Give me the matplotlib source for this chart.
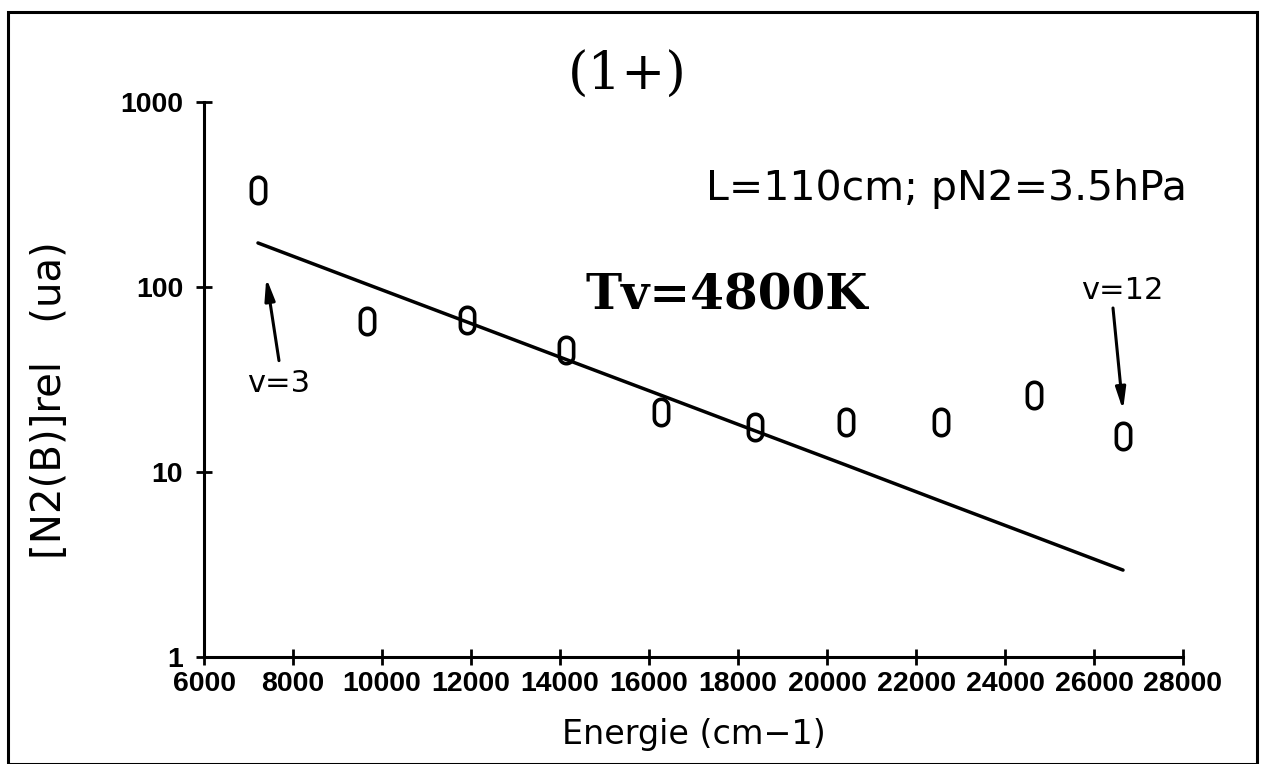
import numpy as np
import matplotlib
matplotlib.use("Agg")
import matplotlib.pyplot as plt
from matplotlib.path import Path
from matplotlib.patches import Rectangle
from matplotlib.ticker import FixedLocator, NullLocator

# Vibrational level energies (cm-1) and relative populations of N2(B)
energie = [7213, 9663, 11910, 14135, 16270, 18382, 20427, 22562, 24652, 26652]
population = [334, 65.5, 66.3, 45.6, 21.1, 17.5, 18.6, 18.6, 26.1, 15.7]
# Boltzmann fit (Tv = 4800 K) evaluated at the same energies
fit = [173, 103.5, 64.7, 40.6, 26.0, 16.7, 10.9, 6.95, 4.49, 2.95]

x_ticks = [6000, 8000, 10000, 12000, 14000, 16000, 18000, 20000, 22000,
           24000, 26000, 28000]
y_ticks = [1, 10, 100, 1000]
y_ticklabels = ["1", "10", "100", "1000"]

W, H = 1262, 764
fig = plt.figure(figsize=(W / 100, H / 100), dpi=100)
ax = fig.add_axes([204 / W, 1 - 657 / H, (1183 - 204) / W, (657 - 102) / H])

# stadium-shaped "0" marker
r, h = 0.27, 0.23
t1 = np.linspace(0, np.pi, 20)
t2 = np.linspace(np.pi, 2 * np.pi, 20)
verts = np.concatenate([
    np.column_stack([r * np.cos(t1), h + r * np.sin(t1)]),
    np.column_stack([r * np.cos(t2), -h + r * np.sin(t2)]),
    [[r, h]],
])
stadium = Path(verts, closed=True)

ax.plot(energie, fit, color="black", lw=2.5, solid_capstyle="round")
ax.plot(energie, population, linestyle="none", marker=stadium, markersize=19,
        markerfacecolor="none", markeredgecolor="black", markeredgewidth=2.6)

ax.set_yscale("log")
ax.set_xlim(6000, 28000)
ax.set_ylim(1, 1000)
ax.xaxis.set_major_locator(FixedLocator(x_ticks))
ax.yaxis.set_major_locator(FixedLocator(y_ticks))
ax.yaxis.set_minor_locator(NullLocator())
ax.set_yticklabels(y_ticklabels)
ax.set_xticklabels([str(v) for v in x_ticks])

for s in ["top", "right"]:
    ax.spines[s].set_visible(False)
for s in ["left", "bottom"]:
    ax.spines[s].set_linewidth(2.2)

ax.tick_params(direction="inout", length=12, width=2.0)
ax.tick_params(axis="x", pad=4)
ax.tick_params(axis="y", pad=9)
for lab in ax.get_xticklabels() + ax.get_yticklabels():
    lab.set_fontfamily("Liberation Sans")
    lab.set_fontweight("bold")
    lab.set_fontsize(20.5)

ax.set_xlabel("Energie (cm\u22121)", fontsize=24, family="DejaVu Sans", labelpad=15)
ax.set_ylabel("[N2(B)]rel   (ua)", fontsize=29, family="DejaVu Sans")
ax.yaxis.set_label_coords(-0.137, 0.463)

# annotations
fig.text(627 / W, 1 - 75 / H, "(1+)", ha="center", va="center",
         fontsize=38, family="DejaVu Serif")
fig.text(706 / W, 1 - 200 / H, "L=110cm; pN2=3.5hPa", ha="left",
         va="baseline", fontsize=29.5, family="DejaVu Sans")
fig.text(585 / W, 1 - 310 / H, "Tv=4800K", ha="left", va="baseline",
         fontsize=35, family="DejaVu Serif", fontweight="bold")

arrow = dict(arrowstyle="-|>,head_length=1.3,head_width=0.3", color="black",
             lw=2.2, shrinkA=0, shrinkB=0)
ax.annotate("", xy=(7400, 112), xytext=(7685, 40), arrowprops=arrow)
ax.text(7685, 30, "v=3", ha="center", va="center", fontsize=22,
        family="DejaVu Sans")
ax.annotate("", xy=(26652, 21.6), xytext=(26427, 77), arrowprops=arrow)
ax.text(26630, 96, "v=12", ha="center", va="center", fontsize=22,
        family="DejaVu Sans")

# frame around the figure
fig.patches.append(Rectangle((8 / W, 0), (1257 - 8) / W, 1 - 12 / H,
                             transform=fig.transFigure, fill=False,
                             edgecolor="black", lw=2.2))

fig.savefig("out.png", dpi=100, facecolor="white")
